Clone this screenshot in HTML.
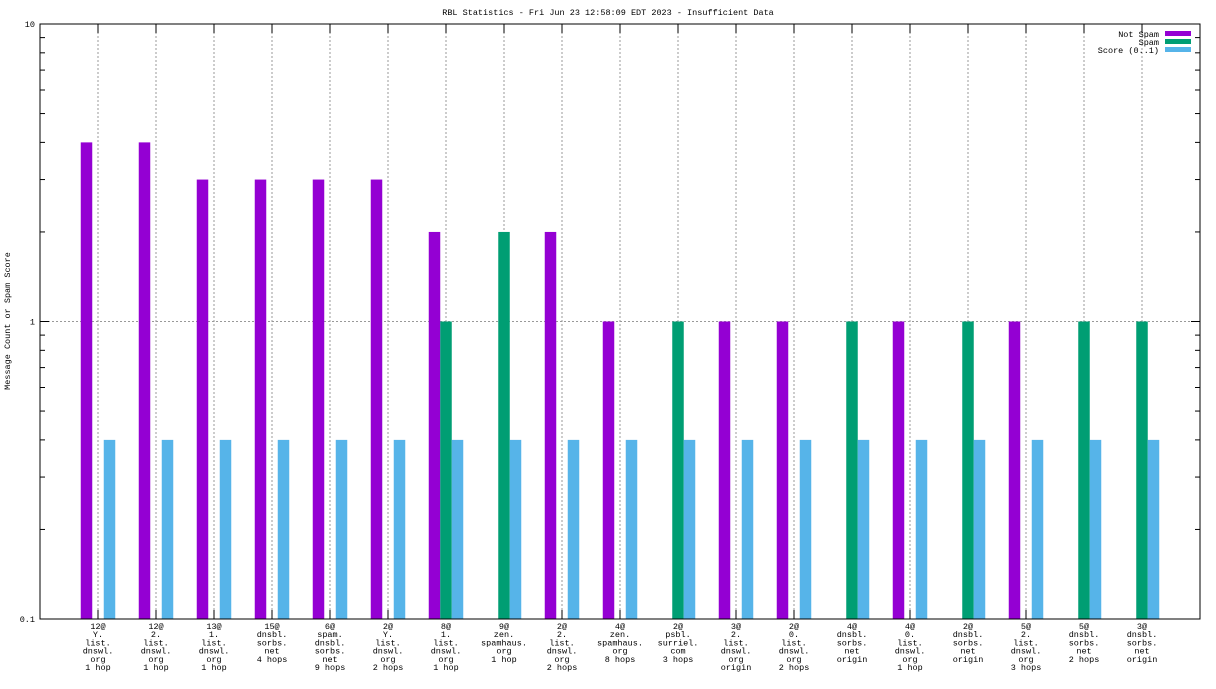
<!DOCTYPE html>
<html><head><meta charset="utf-8"><style>
body{margin:0;background:#fff}
svg text{font-family:"Liberation Mono",monospace;font-size:8.5px;fill:#000}
</style></head><body>
<svg id="c" width="1216" height="684" xmlns="http://www.w3.org/2000/svg"></svg>
<script>
const categories=[["12@","Y.","list.","dnswl.","org","1 hop"],["12@","2.","list.","dnswl.","org","1 hop"],["13@","1.","list.","dnswl.","org","1 hop"],["15@","dnsbl.","sorbs.","net","4 hops"],["6@","spam.","dnsbl.","sorbs.","net","9 hops"],["2@","Y.","list.","dnswl.","org","2 hops"],["8@","1.","list.","dnswl.","org","1 hop"],["9@","zen.","spamhaus.","org","1 hop"],["2@","2.","list.","dnswl.","org","2 hops"],["4@","zen.","spamhaus.","org","8 hops"],["2@","psbl.","surriel.","com","3 hops"],["3@","2.","list.","dnswl.","org","origin"],["2@","0.","list.","dnswl.","org","2 hops"],["4@","dnsbl.","sorbs.","net","origin"],["4@","0.","list.","dnswl.","org","1 hop"],["2@","dnsbl.","sorbs.","net","origin"],["5@","2.","list.","dnswl.","org","3 hops"],["5@","dnsbl.","sorbs.","net","2 hops"],["3@","dnsbl.","sorbs.","net","origin"]];
const notSpam=[4,4,3,3,3,3,2,0,2,1,0,1,1,0,1,0,1,0,0];
const spam=[0,0,0,0,0,0,1,2,0,0,1,0,0,1,0,1,0,1,1];
const score=[0.4,0.4,0.4,0.4,0.4,0.4,0.4,0.4,0.4,0.4,0.4,0.4,0.4,0.4,0.4,0.4,0.4,0.4,0.4];
const yTicks=[0.1,1,10];
const yTickLabels=["0.1","1","10"];
const svg=document.getElementById('c');const NS='http://www.w3.org/2000/svg';
const L=40,R=1200,T=24,B=619;
const y=v=>B-(Math.log10(v)+1)/2*(B-T);
const x=i=>98+i*58;
function el(t,a,txt){const e=document.createElementNS(NS,t);for(const k in a)e.setAttribute(k,a[k]);if(txt!==undefined)e.textContent=txt;svg.appendChild(e);return e;}
let e=el('text',{x:608,y:15,'text-anchor':'middle'},'RBL Statistics - Fri Jun 23 12:58:09 EDT 2023 - Insufficient Data');

e=el('text',{x:10,y:321,'text-anchor':'middle',transform:'rotate(-90 10 321)'},'Message Count or Spam Score');

// minor ticks
for(let d=-1;d<1;d++)for(let m=2;m<10;m++){const yy=y(m*Math.pow(10,d));el('line',{x1:L,x2:L+5,y1:yy,y2:yy,stroke:'#000'});el('line',{x1:R,x2:R-5,y1:yy,y2:yy,stroke:'#000'});}
yTicks.forEach((v,i)=>{const yy=y(v);
 if(i>0&&i<yTicks.length-1)el('line',{x1:L,x2:R,y1:yy,y2:yy,stroke:'#999','stroke-dasharray':'2,2'});
 el('line',{x1:L,x2:L+9,y1:yy,y2:yy,stroke:'#000'});el('line',{x1:R,x2:R-9,y1:yy,y2:yy,stroke:'#000'});
 e=el('text',{x:35,y:yy+3,'text-anchor':'end'},yTickLabels[i]);});
const w=11.5;
categories.forEach((c,i)=>{const cx=x(i);
 el('line',{x1:cx,x2:cx,y1:T,y2:B,stroke:'#999','stroke-dasharray':'2,2'});
 el('line',{x1:cx,x2:cx,y1:B,y2:B-9,stroke:'#000'});el('line',{x1:cx,x2:cx,y1:T,y2:T+9,stroke:'#000'});
 [[notSpam,'#9400d3',-1.5],[spam,'#009e73',-0.5],[score,'#56b4e9',0.5]].forEach(([arr,col,o],s)=>{const v=arr[i];if(v>0.1){
  const r=el('rect',{x:cx+o*w,y:y(v),width:w,height:B-y(v),fill:col});
  }});
 c.forEach((t,j)=>{const tx=el('text',{x:cx,y:629+j*8.2,'text-anchor':'middle'},t);});
});
el('rect',{x:L,y:T,width:R-L,height:B-T,fill:'none',stroke:'#000'});
[['Not Spam','#9400d3'],['Spam','#009e73'],['Score (0..1)','#56b4e9']].forEach(([t,c],i)=>{
 const g=el('text',{x:1159,y:37+i*8,'text-anchor':'end'},t);
 el('rect',{x:1165,y:31+i*8,width:26,height:5,fill:c});});
</script>
</body></html>
